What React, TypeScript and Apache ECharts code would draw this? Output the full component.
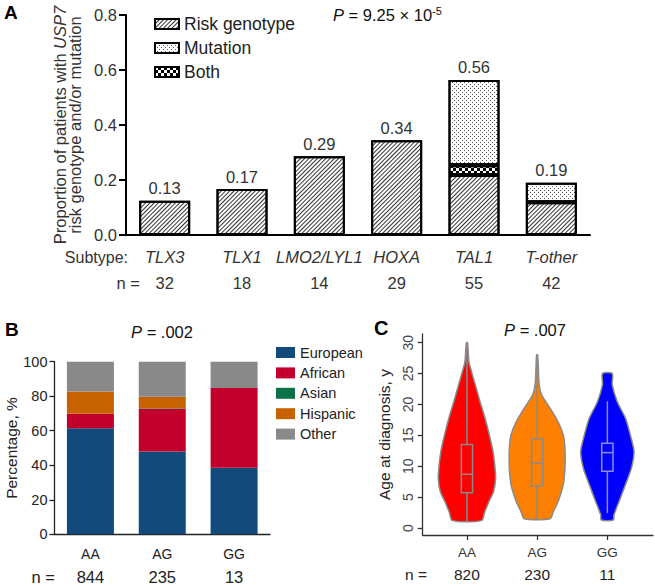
import React, { useEffect, useRef } from "react";
import * as echarts from "echarts";

// ---------- Panel A data ----------
const subtypes = ["TLX3", "TLX1", "LMO2/LYL1", "HOXA", "TAL1", "T-other"];
const subtypeN = [32, 18, 14, 29, 55, 42];
const riskGenotype = [0.125, 0.167, 0.286, 0.345, 0.218, 0.119];
const bothValues = [0, 0, 0, 0, 0.036, 0];
const mutationValues = [0, 0, 0, 0, 0.31, 0.071];
const totalLabels = ["0.13", "0.17", "0.29", "0.34", "0.56", "0.19"];

// ---------- Panel B data ----------
const genotypesB = ["AA", "AG", "GG"];
const genotypeNB = [844, 235, 13];
const european = [61.4, 47.9, 38.5];
const african = [8.5, 24.8, 46.2];
const asian = [0, 0.4, 0];
const hispanic = [12.8, 6.6, 0];
const other = [17.3, 20.3, 15.3];

// ---------- Panel C data ----------
const genotypesC = ["AA", "AG", "GG"];
const genotypeNC = [820, 230, 11];
const violinAges = [
  [1.2, 2.6, 4.3, 5.9, 8.0, 9.7, 12.4, 15.1, 17.8, 20.4, 23.2, 25.3, 26.9, 30.0],
  [1.5, 2.6, 4.3, 7.0, 9.7, 12.9, 15.1, 17.2, 19.4, 21.5, 23.2, 28.0],
  [1.3, 2.1, 4.3, 7.0, 9.7, 12.4, 15.1, 17.8, 20.4, 23.2, 25.0],
];
const violinDensity = [
  [0.51, 0.62, 0.77, 0.93, 1.0, 0.98, 0.91, 0.78, 0.63, 0.46, 0.29, 0.16, 0.07, 0.02],
  [0.45, 0.56, 0.73, 0.91, 0.97, 0.97, 0.91, 0.73, 0.45, 0.16, 0.07, 0.02],
  [0.21, 0.23, 0.41, 0.63, 0.84, 0.93, 0.8, 0.63, 0.35, 0.17, 0.17],
];
const whiskerLow = [1.0, 1.4, 2.4];
const q1 = [5.7, 6.8, 9.2];
const median = [8.7, 10.5, 12.2];
const q3 = [13.5, 14.4, 13.7];
const whiskerHigh = [30.0, 28.0, 20.5];
const violinColors = ["#ff0000", "#ff8000", "#0000ff"];
const yTicksC = [0, 5, 10, 15, 20, 25, 30];

const FONT = "Liberation Sans, Arial, Helvetica, sans-serif";

const hatch = {
  symbol: "rect",
  symbolSize: 1,
  dashArrayX: [1, 0],
  dashArrayY: [1, 2],
  rotation: -Math.PI / 4,
  color: "#333",
  backgroundColor: "#fff",
};
const dots = {
  symbol: "rect",
  symbolSize: 1,
  dashArrayX: [
    [1, 3],
    [0, 2, 1, 1],
  ],
  dashArrayY: [1, 1],
  color: "#555",
  backgroundColor: "#fff",
};
const checker = {
  symbol: "rect",
  symbolSize: 1,
  dashArrayX: [
    [3, 3],
    [0, 3, 3, 0],
  ],
  dashArrayY: [3, 0],
  color: "#000",
  backgroundColor: "#fff",
};

const totals = riskGenotype.map((v, i) => v + bothValues[i] + mutationValues[i]);

function buildOption() {
  const barA = (name: string, data: number[], decal: any) => ({
    name,
    type: "bar",
    xAxisIndex: 0,
    yAxisIndex: 0,
    stack: "a",
    barWidth: 51,
    barGap: "-100%",
    data: data.map((v) => (v === 0 ? "-" : v)),
    itemStyle: { color: "#fff", borderColor: "#000", borderWidth: 2, decal },
  });
  const barB = (name: string, data: number[], color: string) => ({
    name,
    type: "bar",
    xAxisIndex: 1,
    yAxisIndex: 1,
    stack: "b",
    barWidth: 47,
    data,
    itemStyle: { color },
  });

  return {
    animation: false,
    textStyle: { fontFamily: FONT },
    grid: [
      { left: 126, top: 15, width: 464, height: 220 },
      { left: 54.5, top: 361.7, width: 215.5, height: 172.6 },
      { left: 422.7, top: 334, width: 230.3, height: 201 },
    ],
    legend: [
      {
        orient: "vertical",
        left: 149,
        top: 10,
        itemWidth: 24,
        itemHeight: 10,
        itemGap: 6,
        icon: "rect",
        data: ["Risk genotype", "Mutation", "Both"],
        textStyle: { fontSize: 17.5, color: "#222", fontFamily: FONT },
      },
      {
        orient: "vertical",
        left: 271,
        top: 340,
        itemWidth: 19,
        itemHeight: 11,
        itemGap: 5.4,
        icon: "rect",
        data: ["European", "African", "Asian", "Hispanic", "Other"],
        textStyle: { fontSize: 14.5, color: "#222", fontFamily: FONT },
      },
    ],
    xAxis: [
      {
        gridIndex: 0,
        type: "category",
        data: subtypes,
        axisLine: { lineStyle: { color: "#000", width: 2 } },
        axisTick: { alignWithLabel: true, length: 7, lineStyle: { color: "#000", width: 2 } },
        axisLabel: {
          margin: 9,
          interval: 0,
          formatter: (v: string, i: number) => `{c|${v}}\n{n|${subtypeN[i]}}`,
          rich: {
            c: { fontStyle: "italic", fontSize: 16.5, lineHeight: 26, color: "#333", fontFamily: FONT },
            n: { fontSize: 16.5, lineHeight: 26, color: "#333", fontFamily: FONT },
          },
        },
      },
      {
        gridIndex: 1,
        type: "category",
        data: genotypesB,
        axisLine: { lineStyle: { color: "#222", width: 1.3 } },
        axisTick: { show: false },
        axisLabel: {
          margin: 9,
          formatter: (v: string, i: number) => `{g|${v}}\n{n|${genotypeNB[i]}}`,
          rich: {
            g: { fontSize: 14, lineHeight: 22, color: "#222", fontFamily: FONT },
            n: { fontSize: 16.5, lineHeight: 24, color: "#222", fontFamily: FONT },
          },
        },
      },
      {
        gridIndex: 2,
        type: "value",
        min: 0.37,
        max: 3.65,
        splitLine: { show: false },
        axisLine: { onZero: false, lineStyle: { color: "#333", width: 1.3 } },
        axisTick: { customValues: [1, 2, 3], length: 5, lineStyle: { color: "#333", width: 1.3 } },
        axisLabel: {
          customValues: [1, 2, 3],
          margin: 7,
          formatter: (v: number) => `{g|${genotypesC[v - 1]}}\n{n|${genotypeNC[v - 1]}}`,
          rich: {
            g: { fontSize: 13.5, lineHeight: 21, color: "#333", fontFamily: FONT },
            n: { fontSize: 15.5, lineHeight: 23, color: "#222", fontFamily: FONT },
          },
        },
      },
    ],
    yAxis: [
      {
        gridIndex: 0,
        type: "value",
        min: 0,
        max: 0.8,
        interval: 0.2,
        splitLine: { show: false },
        axisLine: { show: true, lineStyle: { color: "#000", width: 2 } },
        axisTick: { show: true, length: 7, lineStyle: { color: "#000", width: 2 } },
        axisLabel: {
          margin: 9,
          fontSize: 16.5,
          color: "#333",
          formatter: (v: number) => v.toFixed(1),
        },
        name: "Proportion of patients with {i|USP7}\nrisk genotype and/or mutation",
        nameLocation: "middle",
        nameRotate: 90,
        nameGap: 41,
        nameTextStyle: {
          fontSize: 16.5,
          lineHeight: 15,
          color: "#333",
          fontFamily: FONT,
          rich: { i: { fontStyle: "italic", fontSize: 16.5, lineHeight: 15, color: "#333", fontFamily: FONT } },
        },
      },
      {
        gridIndex: 1,
        type: "value",
        min: 0,
        max: 100,
        interval: 20,
        splitLine: { show: false },
        axisLine: { show: true, lineStyle: { color: "#222", width: 1.3 } },
        axisTick: { show: true, length: 5, lineStyle: { color: "#222", width: 1.3 } },
        axisLabel: { margin: 7, fontSize: 14.5, color: "#222" },
        name: "Percentage, %",
        nameLocation: "middle",
        nameRotate: 90,
        nameGap: 35,
        nameTextStyle: { fontSize: 15.5, color: "#222", fontFamily: FONT },
      },
      {
        gridIndex: 2,
        type: "value",
        min: -1.13,
        max: 31.4,
        splitLine: { show: false },
        axisLine: { show: true, onZero: false, lineStyle: { color: "#333", width: 1.3 } },
        axisTick: { show: true, customValues: yTicksC, length: 5, lineStyle: { color: "#333", width: 1.3 } },
        axisLabel: { customValues: yTicksC, rotate: 90, margin: 8, fontSize: 14, color: "#444" },
        name: "Age at diagnosis, y",
        nameLocation: "middle",
        nameRotate: 90,
        nameGap: 30,
        nameTextStyle: { fontSize: 15.5, color: "#222", fontFamily: FONT },
      },
    ],
    series: [
      barA("Risk genotype", riskGenotype, hatch),
      barA("Both", bothValues, checker),
      barA("Mutation", mutationValues, dots),
      {
        name: "total",
        type: "bar",
        xAxisIndex: 0,
        yAxisIndex: 0,
        barWidth: 51,
        barGap: "-100%",
        data: totals,
        itemStyle: { color: "rgba(0,0,0,0)" },
        silent: true,
        z: 5,
        label: {
          show: true,
          position: "top",
          distance: 4,
          fontSize: 16.5,
          color: "#333",
          fontFamily: FONT,
          formatter: (p: any) => totalLabels[p.dataIndex],
        },
      },
      barB("European", european, "#134a7c"),
      barB("African", african, "#c3002b"),
      barB("Asian", asian, "#0a7246"),
      barB("Hispanic", hispanic, "#c66300"),
      barB("Other", other, "#898989"),
      {
        type: "custom",
        xAxisIndex: 2,
        yAxisIndex: 2,
        clip: false,
        data: median.map((m, i) => [i + 1, m]),
        renderItem: (params: any, api: any) => {
          const i = params.dataIndex;
          const cx = i + 1;
          const halfMax = 0.408;
          const boxHalf = 0.08;
          const ys = violinAges[i];
          const ds = violinDensity[i];
          const left = ys.map((y, k) => api.coord([cx - ds[k] * halfMax, y]));
          const right = ys.map((y, k) => api.coord([cx + ds[k] * halfMax, y])).reverse();
          const pts = [...left, ...right];
          const p1 = api.coord([cx - boxHalf, q3[i]]);
          const p2 = api.coord([cx + boxHalf, q1[i]]);
          const m1 = api.coord([cx - boxHalf, median[i]]);
          const m2 = api.coord([cx + boxHalf, median[i]]);
          const w1 = api.coord([cx, whiskerLow[i]]);
          const w2 = api.coord([cx, whiskerHigh[i]]);
          const stroke = i === 2 ? "#8c8cd8" : "#8a8a8a";
          return {
            type: "group",
            children: [
              {
                type: "polygon",
                shape: { points: pts, smooth: 0.25 },
                style: { fill: violinColors[i], stroke: "#8a8a8a", lineWidth: 1.5 },
              },
              {
                type: "line",
                shape: { x1: w1[0], y1: w1[1], x2: w2[0], y2: w2[1] },
                style: { stroke, lineWidth: 1.5 },
              },
              {
                type: "rect",
                shape: { x: p1[0], y: p1[1], width: p2[0] - p1[0], height: p2[1] - p1[1] },
                style: { fill: violinColors[i], stroke, lineWidth: 1.5 },
              },
              {
                type: "line",
                shape: { x1: m1[0], y1: m1[1], x2: m2[0], y2: m2[1] },
                style: { stroke, lineWidth: 1.5 },
              },
            ],
          };
        },
      },
    ],
    graphic: [
      { type: "text", left: 4, top: 3, style: { text: "A", font: `bold 19px ${FONT}`, fill: "#000" } },
      {
        type: "text",
        x: 333,
        y: 5,
        style: {
          text: "{p|P}{t| = 9.25 × 10}{s|-5}",
          rich: {
            p: { fontStyle: "italic", fontSize: 16.5, lineHeight: 20, fontFamily: FONT, fill: "#111" },
            t: { fontSize: 16.5, lineHeight: 20, fontFamily: FONT, fill: "#111" },
            s: { fontSize: 11, lineHeight: 12, verticalAlign: "top", fontFamily: FONT, fill: "#111" },
          },
        },
      },
      {
        type: "text",
        x: 128,
        y: 257,
        style: { text: "Subtype:", fontSize: 16, fontFamily: FONT, fill: "#333", align: "right", verticalAlign: "middle" },
      },
      {
        type: "text",
        x: 140,
        y: 283,
        style: { text: "n =", fontSize: 16.5, fontFamily: FONT, fill: "#333", align: "right", verticalAlign: "middle" },
      },
      { type: "text", left: 5, top: 320, style: { text: "B", font: `bold 19px ${FONT}`, fill: "#000" } },
      {
        type: "text",
        x: 162,
        y: 332,
        style: {
          text: "{p|P}{t| = .002}",
          align: "center",
          verticalAlign: "middle",
          rich: {
            p: { fontStyle: "italic", fontSize: 16.5, fontFamily: FONT, fill: "#111" },
            t: { fontSize: 16.5, fontFamily: FONT, fill: "#111" },
          },
        },
      },
      {
        type: "text",
        x: 55,
        y: 577,
        style: { text: "n =", fontSize: 16.5, fontFamily: FONT, fill: "#222", align: "right", verticalAlign: "middle" },
      },
      { type: "text", left: 374, top: 318, style: { text: "C", font: `bold 20px ${FONT}`, fill: "#000" } },
      {
        type: "text",
        x: 535,
        y: 330,
        style: {
          text: "{p|P}{t| = .007}",
          align: "center",
          verticalAlign: "middle",
          rich: {
            p: { fontStyle: "italic", fontSize: 16.5, fontFamily: FONT, fill: "#111" },
            t: { fontSize: 16.5, fontFamily: FONT, fill: "#111" },
          },
        },
      },
      {
        type: "text",
        x: 427,
        y: 574,
        style: { text: "n =", fontSize: 15.5, fontFamily: FONT, fill: "#222", align: "right", verticalAlign: "middle" },
      },
    ],
  };
}

export default function App() {
  const ref = useRef<HTMLDivElement>(null);
  useEffect(() => {
    if (!ref.current) return;
    const chart = echarts.init(ref.current, null, { renderer: "svg" });
    chart.setOption(buildOption() as any);
    return () => chart.dispose();
  }, []);
  return (
    <div
      ref={ref}
      style={{ position: "fixed", left: 0, top: 0, width: 655, height: 586, background: "#fff" }}
    />
  );
}
